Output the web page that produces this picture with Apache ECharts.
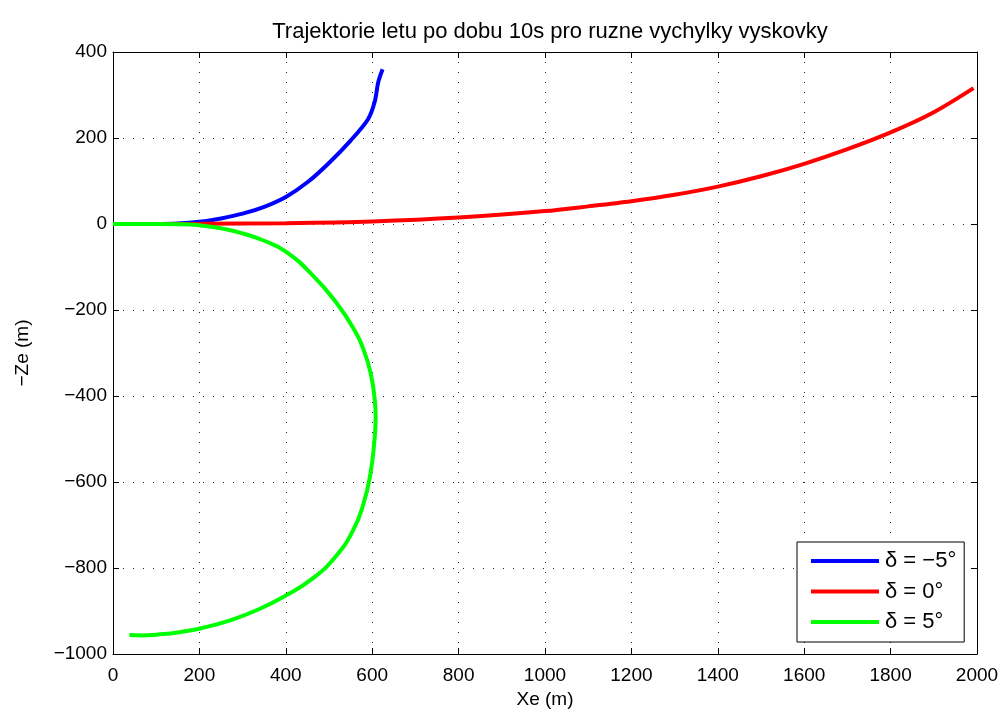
<!DOCTYPE html>
<html>
<head>
<meta charset="utf-8">
<script src="https://cdn.jsdelivr.net/npm/echarts@6/dist/echarts.min.js"></script>
<style>html,body{margin:0;padding:0;background:#fff}#c{width:1000px;height:709px}</style>
</head>
<body>
<div id="c"></div>
<script>
const seriesNames = ['δ = −5°', 'δ = 0°', 'δ = 5°'];
const seriesColors = ['#0000ff', '#ff0000', '#00ff00'];
const xTicks = [0, 200, 400, 600, 800, 1000, 1200, 1400, 1600, 1800, 2000];
const yTicks = [-1000, -800, -600, -400, -200, 0, 200, 400];
const blueXY = [[0,0],[100,0],[150,1],[200,5],[250,13],[300,24],[350,40],[400,63],[450,97],[500,142],[550,194],[590,243],[606,285],[614,330],[624,360]];
const redXY = [[0,0],[200,0.5],[400,2],[600,6],[800,15],[1000,30],[1100,41],[1200,53],[1300,68],[1400,87],[1500,111],[1600,140],[1700,174],[1800,213],[1900,260],[1992,316]];
const greenXY = [[0,0],[100,0],[150,-0.5],[200,-3],[250,-10],[300,-22],[350,-39],[400,-64],[463,-120],[517,-183],[555,-240],[581,-295],[597,-350],[606,-410],[608,-448],[605,-505],[596,-580],[580,-650],[556,-712],[515,-774],[460,-826],[398,-865],[335,-897],[273,-921],[204,-940],[150,-950],[100,-955],[70,-957],[38,-956]];
const allData = [blueXY, redXY, greenXY];

const fnt = 'Liberation Sans, Arial, Helvetica, sans-serif';
const minus = v => String(v).replace('-', '\u2212');
const tickStyle = {show: true, inside: true, length: 6, lineStyle: {color: '#000', width: 1}};
const axisLine = {show: true, onZero: false, lineStyle: {color: '#000', width: 1}};
const grid = {show: true, lineStyle: {color: '#222', width: 1, type: [1, 9]}};

const chart = echarts.init(document.getElementById('c'), null, {renderer: 'canvas'});
chart.setOption({
  animation: false,
  backgroundColor: '#fff',
  title: {
    text: 'Trajektorie letu po dobu 10s pro ruzne vychylky vyskovky',
    left: 545, top: 16, textAlign: 'center',
    textStyle: {fontFamily: fnt, fontSize: 22, fontWeight: 'normal', color: '#000'}
  },
  grid: {left: 113, right: 23, top: 52, bottom: 55, containLabel: false, outerBoundsMode: 'none'},
  legend: {
    data: seriesNames.map(n => ({name: n, icon: 'rect'})),
    orient: 'vertical', left: 797, top: 542,
    itemWidth: 68, itemHeight: 4, itemGap: 8.5,
    padding: [8, 8, 9, 14],
    borderColor: '#000', borderWidth: 1, backgroundColor: '#fff',
    textStyle: {fontFamily: fnt, fontSize: 22, color: '#000', lineHeight: 22, padding: [0, 0, 0, 1]}
  },
  xAxis: [{
    type: 'value', min: xTicks[0], max: xTicks[xTicks.length-1], interval: 200,
    name: 'Xe (m)', nameLocation: 'middle', nameGap: 34,
    nameTextStyle: {fontFamily: fnt, fontSize: 19, color: '#000'},
    axisLine: axisLine, axisTick: tickStyle, splitLine: grid,
    axisLabel: {fontFamily: fnt, fontSize: 19, color: '#000', margin: 12, formatter: minus}
  }, {
    type: 'value', position: 'top', min: xTicks[0], max: xTicks[xTicks.length-1], interval: 200,
    axisLine: axisLine, axisTick: tickStyle, splitLine: {show: false}, axisLabel: {show: false}
  }],
  yAxis: [{
    type: 'value', min: yTicks[0], max: yTicks[yTicks.length-1], interval: 200,
    name: '\u2212Ze (m)', nameLocation: 'middle', nameGap: 81, nameRotate: 90,
    nameTextStyle: {fontFamily: fnt, fontSize: 19, color: '#000'},
    axisLine: axisLine, axisTick: tickStyle, splitLine: grid,
    axisLabel: {fontFamily: fnt, fontSize: 19, color: '#000', margin: 6, formatter: minus}
  }, {
    type: 'value', position: 'right', min: yTicks[0], max: yTicks[yTicks.length-1], interval: 200,
    axisLine: axisLine, axisTick: tickStyle, splitLine: {show: false}, axisLabel: {show: false}
  }],
  series: allData.map((d, i) => ({
    name: seriesNames[i], type: 'line', data: d, smooth: i === 2 ? 0.5 : 0.3,
    showSymbol: false, symbol: 'none', z: 3 + i,
    lineStyle: {color: seriesColors[i], width: 4},
    itemStyle: {color: seriesColors[i]}
  }))
});
</script>
</body>
</html>
